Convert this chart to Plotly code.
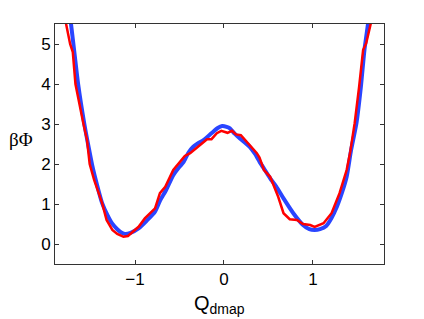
import plotly.graph_objects as go

# Blue (smooth) free-energy profile
blue_q = [-1.76, -1.72, -1.68, -1.64, -1.57, -1.52, -1.48, -1.43, -1.37, -1.31, -1.26, -1.20,
          -1.15, -1.11, -1.05, -0.96, -0.87, -0.775, -0.72, -0.65, -0.57, -0.50, -0.457, -0.40,
          -0.345, -0.29, -0.23, -0.14, -0.07, -0.02, 0.03, 0.067, 0.12, 0.18, 0.29, 0.35, 0.40,
          0.46, 0.52, 0.59, 0.67, 0.78, 0.89, 0.96, 1.02, 1.08, 1.15, 1.21, 1.27, 1.33, 1.38,
          1.43, 1.49, 1.54, 1.58, 1.62, 1.66]
blue_phi = [6.2, 5.5, 4.75, 4.0, 3.0, 2.4, 1.95, 1.5, 1.02, 0.72, 0.52, 0.37,
            0.28, 0.25, 0.28, 0.39, 0.58, 0.81, 1.08, 1.35, 1.72, 1.93, 2.04, 2.28,
            2.43, 2.52, 2.6, 2.77, 2.9, 2.95, 2.93, 2.89, 2.76, 2.64, 2.43, 2.25, 2.06,
            1.85, 1.64, 1.43, 1.14, 0.77, 0.475, 0.37, 0.35, 0.37, 0.45, 0.65, 0.93, 1.3, 1.68,
            2.35, 3.02, 3.93, 4.85, 5.5, 6.2]

# Red (noisy) free-energy profile
red_q = [-1.80, -1.775, -1.73, -1.70, -1.67, -1.62, -1.58, -1.54, -1.51, -1.46, -1.42, -1.37,
         -1.32, -1.255, -1.20, -1.13, -1.08, -1.04, -0.96, -0.89, -0.775, -0.72, -0.66, -0.57,
         -0.44, -0.38, -0.29, -0.19, -0.14, -0.08, -0.03, 0.04, 0.09, 0.135, 0.19, 0.255, 0.37,
         0.40, 0.45, 0.52, 0.55, 0.61, 0.67, 0.74, 0.82, 0.89, 0.97, 1.02, 1.12, 1.21, 1.30,
         1.38, 1.42, 1.47, 1.52, 1.565, 1.60, 1.65, 1.68]
red_phi = [6.0, 5.5, 5.0, 4.8, 4.0, 3.4, 3.0, 2.6, 2.0, 1.6, 1.35, 1.02,
           0.6, 0.35, 0.25, 0.18, 0.2, 0.27, 0.43, 0.64, 0.89, 1.27, 1.43, 1.85,
           2.2, 2.27, 2.43, 2.62, 2.62, 2.77, 2.83, 2.78, 2.83, 2.74, 2.72, 2.56, 2.27,
           2.16, 1.85, 1.68, 1.52, 1.18, 0.77, 0.62, 0.6, 0.5, 0.475, 0.43, 0.52, 0.77, 1.27,
           1.85, 2.3, 3.02, 3.93, 4.85, 5.02, 5.5, 6.0]

x_ticks = [-1, 0, 1]
x_tick_labels = ["\u22121", "0", "1"]
y_ticks = [0, 1, 2, 3, 4, 5]

fig = go.Figure()
fig.add_trace(go.Scatter(x=blue_q, y=blue_phi, mode="lines",
                         line=dict(color="#2a45ff", width=4, shape="spline", smoothing=0.6),
                         showlegend=False))
fig.add_trace(go.Scatter(x=red_q, y=red_phi, mode="lines",
                         line=dict(color="#ff0000", width=2.5),
                         showlegend=False))

axis_common = dict(showgrid=False, zeroline=False, showline=True, linecolor="#333333",
                   linewidth=1, mirror="ticks", ticks="inside", ticklen=4, tickcolor="#333333",
                   tickfont=dict(family="Liberation Sans, Arial, sans-serif", size=17, color="black"))

fig.update_xaxes(range=[-1.9, 1.8], tickvals=x_ticks, ticktext=x_tick_labels, **axis_common)
fig.update_yaxes(range=[-0.5, 5.5], tickvals=y_ticks, **axis_common)

fig.update_layout(
    width=424, height=319,
    margin=dict(l=55, r=40, t=24, b=55),
    plot_bgcolor="white", paper_bgcolor="white",
    annotations=[
        dict(text="\u03b2\u03a6", xref="paper", yref="paper", x=-0.102, y=0.517,
             showarrow=False, xanchor="center", yanchor="middle",
             font=dict(family="Liberation Serif, Times New Roman, serif", size=19, color="black")),
        dict(text="Q<sub>dmap</sub>", xref="paper", yref="paper", x=0.5015, y=-0.11,
             showarrow=False, xanchor="center", yanchor="top",
             font=dict(family="Liberation Sans, Arial, sans-serif", size=20, color="black")),
    ],
)

fig.write_html("out.html", config={"displayModeBar": False},
               post_script="document.body.style.margin='0px';")
